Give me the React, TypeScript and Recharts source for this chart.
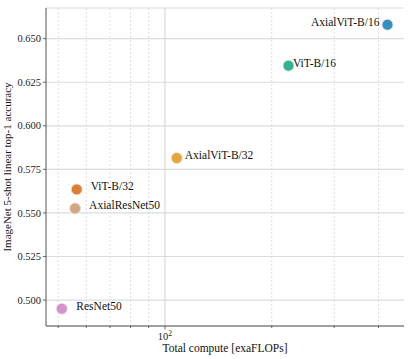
import React from 'react';
import { ScatterChart, Scatter, XAxis, YAxis, CartesianGrid, ReferenceLine } from 'recharts';

const modelNames = ['AxialViT-B/16', 'ViT-B/16', 'AxialViT-B/32', 'ViT-B/32', 'AxialResNet50', 'ResNet50'];
const computeExaFlops = [424, 223, 108, 56.4, 55.8, 51.2];
const accuracy = [0.658, 0.6345, 0.5815, 0.5635, 0.5526, 0.495];
const pointColors = ['#348FC1', '#35B18F', '#E5A537', '#DD7E33', '#D5A781', '#D693C9'];

const xMajorTicks = [100];
const xMinorTicks = [50, 60, 70, 80, 90, 200, 300, 400];
const yTicks = [0.5, 0.525, 0.55, 0.575, 0.6, 0.625, 0.65];

// label placement (styling only)
const labelDx: Record<string, number> = {
  'AxialViT-B/16': -8,
  'ViT-B/16': 4.5,
  'AxialViT-B/32': 8,
  'ViT-B/32': 14,
  'AxialResNet50': 14,
  'ResNet50': 14.5,
};

const data = modelNames.map((name, i) => ({
  name,
  compute: computeExaFlops[i],
  acc: accuracy[i],
  color: pointColors[i],
}));

const FONT = '"Liberation Serif", "DejaVu Serif", serif';
const X_DOMAIN: [number, number] = [46.2, 472];
const Y_DOMAIN: [number, number] = [0.4851, 0.6676];

const allXTicks = [...xMinorTicks.slice(0, 5), ...xMajorTicks, ...xMinorTicks.slice(5)];

const XTick = (props: any) => {
  const { x, y, payload } = props;
  const major = xMajorTicks.includes(payload.value);
  return (
    <g>
      <line x1={x} x2={x} y1={y} y2={y + (major ? 3.5 : 2)} stroke="#444" strokeWidth={0.8} />
      {major && (
        <text x={x} y={y + 14} textAnchor="middle" fontFamily={FONT} fontSize={10.5} fill="#222">
          10<tspan dy={-4} fontSize={7.5}>2</tspan>
        </text>
      )}
    </g>
  );
};

const YTick = (props: any) => {
  const { x, y, payload } = props;
  return (
    <g>
      <line x1={x - 3} x2={x} y1={y} y2={y} stroke="#444" strokeWidth={0.8} />
      <text x={x - 5} y={y + 3.6} textAnchor="end" fontFamily={FONT} fontSize={10.5} fill="#222">
        {Number(payload.value).toFixed(3)}
      </text>
    </g>
  );
};

const PointShape = (props: any) => {
  const { cx, cy, payload } = props;
  const dx = labelDx[payload.name];
  return (
    <g>
      <circle cx={cx} cy={cy} r={5.5} fill={payload.color} stroke="#e4e4e4" strokeWidth={0.9} />
      <text
        x={cx + dx}
        y={cy + 1}
        textAnchor={dx < 0 ? 'end' : 'start'}
        fontFamily={FONT}
        fontSize={11.5}
        fill="#111"
      >
        {payload.name}
      </text>
    </g>
  );
};

export default function App() {
  return (
    <div style={{ position: 'absolute', left: 0, top: 0, background: '#fff' }}>
      <ScatterChart width={412} height={359} margin={{ top: 8, right: 8, left: 0, bottom: 0 }}>
        <CartesianGrid horizontal vertical={false} stroke="#dcdcdc" strokeWidth={1.2} />
        {allXTicks.map((t) => (
          <ReferenceLine
            key={t}
            x={t}
            stroke={xMajorTicks.includes(t) ? '#d0d0d0' : '#d6d6d6'}
            strokeWidth={xMajorTicks.includes(t) ? 1 : 0.8}
            strokeDasharray={xMajorTicks.includes(t) ? undefined : '2 2'}
          />
        ))}
        <XAxis
          type="number"
          dataKey="compute"
          scale="log"
          domain={X_DOMAIN}
          ticks={allXTicks}
          tick={<XTick />}
          tickLine={false}
          tickSize={0}
          tickMargin={0}
          axisLine={{ stroke: '#555' }}
          height={33}
          interval={0}
          allowDataOverflow
          label={{
            value: 'Total compute [exaFLOPs]',
            position: 'insideBottom',
            offset: 7,
            style: { fontFamily: FONT, fontSize: 11.5, fill: '#111' },
          }}
        />
        <XAxis
          xAxisId="top"
          orientation="top"
          type="number"
          scale="log"
          domain={X_DOMAIN}
          allowDataOverflow
          tick={false}
          tickLine={false}
          axisLine={{ stroke: '#555' }}
          height={0}
        />
        <YAxis
          type="number"
          dataKey="acc"
          domain={Y_DOMAIN}
          ticks={yTicks}
          tick={<YTick />}
          tickLine={false}
          tickSize={0}
          tickMargin={0}
          axisLine={{ stroke: '#555' }}
          width={46}
          interval={0}
          allowDataOverflow
          label={{
            value: 'ImageNet 5-shot linear top-1 accuracy',
            angle: -90,
            position: 'insideLeft',
            offset: 0,
            dx: 7,
            style: { fontFamily: FONT, fontSize: 11, fill: '#111', textAnchor: 'middle' },
          }}
        />
        <YAxis
          yAxisId="right"
          orientation="right"
          type="number"
          domain={Y_DOMAIN}
          allowDataOverflow
          tick={false}
          tickLine={false}
          axisLine={{ stroke: '#555' }}
          width={0}
        />
        <Scatter data={data} isAnimationActive={false} shape={<PointShape />} />
      </ScatterChart>
    </div>
  );
}
